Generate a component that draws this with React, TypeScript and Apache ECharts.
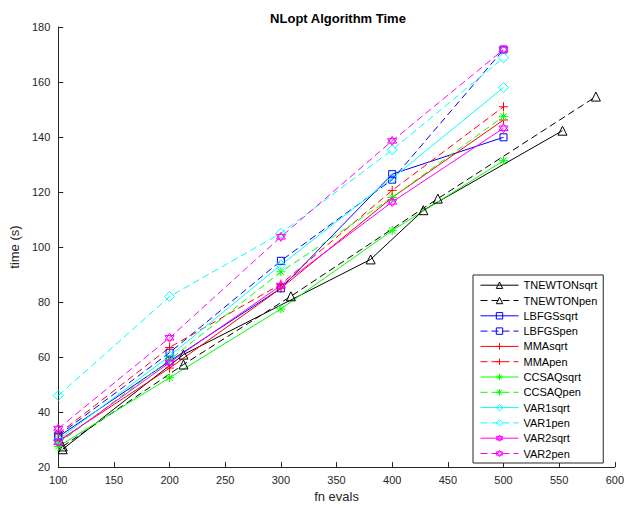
import React, { useEffect, useRef } from "react";
import * as echarts from "echarts";

// ---- data ----
const seriesNames = [
  "TNEWTONsqrt", "TNEWTONpen", "LBFGSsqrt", "LBFGSpen", "MMAsqrt", "MMApen",
  "CCSAQsqrt", "CCSAQpen", "VAR1sqrt", "VAR1pen", "VAR2sqrt", "VAR2pen",
];
const xCommon = [100, 200, 300, 400, 500];
const tnewtonSqrtX = [104, 212.5, 380.6, 428, 553];
const tnewtonSqrtY = [26.5, 60.9, 95.5, 113.4, 142.3];
const tnewtonPenX = [104, 212.5, 309, 441, 583];
const tnewtonPenY = [27.5, 57.3, 82.1, 117.6, 154.7];
const lbfgsSqrt = [31, 58.5, 85, 126.5, 139.9];
const lbfgsPen = [31.5, 61.6, 95, 124.5, 171.8];
const mmaSqrt = [29.5, 56, 85, 118, 146.2];
const mmaPen = [32, 63.5, 86.5, 120.6, 151];
const ccsaqSqrt = [27.5, 52.5, 77.5, 106, 131.4];
const ccsaqPen = [28.5, 59, 91, 118, 147.5];
const var1Sqrt = [30, 60.4, 93.5, 125, 158];
const var1Pen = [46, 82, 105, 135.3, 168.8];
const var2Sqrt = [29, 58, 86, 116.4, 143.2];
const var2Pen = [34, 67, 103.7, 138.6, 171.8];
const xTicks = { min: 100, max: 600, step: 50 };
const yTicks = { min: 20, max: 180, step: 20 };

const PLUS = "path://M5,0L5,10M0,5L10,5";
const STAR = "path://M5,0L5,10M0,5L10,5M1.5,1.5L8.5,8.5M1.5,8.5L8.5,1.5";
const HEX = "path://M5,0L9.33,7.5L0.67,7.5ZM5,10L9.33,2.5L0.67,2.5Z";

const FONT = "Liberation Sans, Arial, sans-serif";
const AXIS_COLOR = "#262626";

function pairs(xs: number[], ys: number[]) {
  return xs.map((x, i) => [x, ys[i]]);
}

export default function App() {
  const ref = useRef<HTMLDivElement>(null);
  useEffect(() => {
    if (!ref.current) return;
    const chart = echarts.init(ref.current, null, { renderer: "svg" });
    const defs: [string, number[][], string, string, number, boolean][] = [
      [seriesNames[0], pairs(tnewtonSqrtX, tnewtonSqrtY), "#000000", "triangle", 9, false],
      [seriesNames[1], pairs(tnewtonPenX, tnewtonPenY), "#000000", "triangle", 9, true],
      [seriesNames[2], pairs(xCommon, lbfgsSqrt), "#0000ff", "rect", 7, false],
      [seriesNames[3], pairs(xCommon, lbfgsPen), "#0000ff", "rect", 7, true],
      [seriesNames[4], pairs(xCommon, mmaSqrt), "#ff0000", PLUS, 9, false],
      [seriesNames[5], pairs(xCommon, mmaPen), "#ff0000", PLUS, 9, true],
      [seriesNames[6], pairs(xCommon, ccsaqSqrt), "#00ff00", STAR, 9, false],
      [seriesNames[7], pairs(xCommon, ccsaqPen), "#00ff00", STAR, 9, true],
      [seriesNames[8], pairs(xCommon, var1Sqrt), "#00ffff", "diamond", 10, false],
      [seriesNames[9], pairs(xCommon, var1Pen), "#00ffff", "diamond", 10, true],
      [seriesNames[10], pairs(xCommon, var2Sqrt), "#ff00ff", HEX, 9, false],
      [seriesNames[11], pairs(xCommon, var2Pen), "#ff00ff", HEX, 9, true],
    ];
    const dashOf = (d: boolean) => (d ? [7, 4] : "solid");
    const series = defs.map(([name, data, color, symbol, size, dashed]) => ({
      name,
      type: "line",
      data,
      symbol,
      symbolSize: size,
      showSymbol: true,
      color,
      itemStyle: { color: "transparent", borderColor: color, borderWidth: 1 },
      lineStyle: { color, width: 1, type: dashOf(dashed) },
      emphasis: { disabled: true },
      z: 2,
    }));
    const legendData = defs.map(([name, , color, , , dashed]) => ({
      name,
      itemStyle: { color: "transparent", borderColor: color, borderWidth: 1 },
      lineStyle: { color, width: 1, type: dashOf(dashed) },
    }));
    chart.setOption({
      animation: false,
      backgroundColor: "#ffffff",
      title: {
        text: "NLopt Algorithm Time",
        left: 333,
        top: 7,
        textAlign: "center",
        textStyle: { fontFamily: FONT, fontSize: 13, fontWeight: "bold", color: "#000" },
      },
      grid: { left: 55.7, right: 11.3, top: 27, bottom: 38, containLabel: false },
      legend: {
        data: legendData,
        orient: "vertical",
        left: 473,
        top: 275,
        itemWidth: 38,
        itemHeight: 8,
        itemGap: 4.3,
        padding: [4.7, 6, 4, 7],
        backgroundColor: "#ffffff",
        borderColor: AXIS_COLOR,
        borderWidth: 1,
        textStyle: { fontFamily: FONT, fontSize: 11, color: "#000" },
        selectedMode: false,
      },
      xAxis: {
        type: "value",
        min: xTicks.min,
        max: xTicks.max,
        interval: xTicks.step,
        name: "fn evals",
        nameLocation: "middle",
        nameGap: 21,
        nameTextStyle: { fontFamily: FONT, fontSize: 13, color: AXIS_COLOR },
        axisLine: { lineStyle: { color: AXIS_COLOR, width: 1 } },
        axisTick: { inside: true, length: 5, lineStyle: { color: AXIS_COLOR } },
        axisLabel: { fontFamily: FONT, fontSize: 11, color: AXIS_COLOR, margin: 7 },
        splitLine: { show: false },
      },
      yAxis: {
        type: "value",
        min: yTicks.min,
        max: yTicks.max,
        interval: yTicks.step,
        name: "time (s)",
        nameLocation: "middle",
        nameGap: 33,
        nameRotate: 90,
        nameTextStyle: { fontFamily: FONT, fontSize: 13, color: AXIS_COLOR },
        axisLine: { show: true, lineStyle: { color: AXIS_COLOR, width: 1 } },
        axisTick: { show: true, inside: true, length: 5, lineStyle: { color: AXIS_COLOR } },
        axisLabel: { fontFamily: FONT, fontSize: 11, color: AXIS_COLOR, margin: 8 },
        splitLine: { show: false },
      },
      series,
    });
    return () => chart.dispose();
  }, []);
  return <div ref={ref} style={{ width: 627, height: 508, position: "absolute", left: 0, top: 0 }} />;
}
